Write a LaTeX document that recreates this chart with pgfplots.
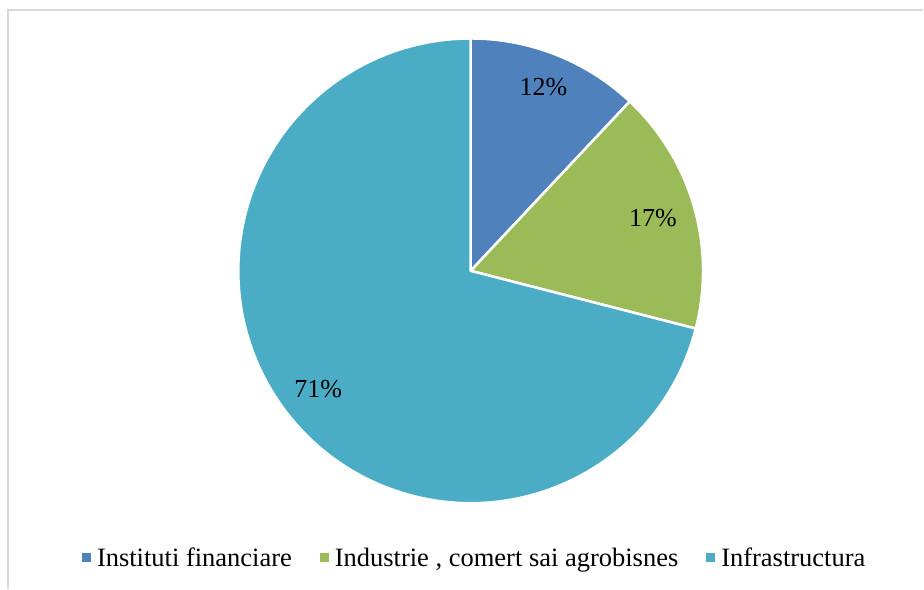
\documentclass[border=0pt]{standalone}
\usepackage{pgfplots}
\usepackage{pgfplotstable}
\pgfplotsset{compat=1.18}
\usepackage{fontspec}
\setmainfont{Liberation Serif}
\definecolor{cBlue}{HTML}{4F81BD}
\definecolor{cGreen}{HTML}{9BBB59}
\definecolor{cTeal}{HTML}{4BACC6}
\definecolor{cBorder}{HTML}{D9D9D9}
\pgfplotstableread{
share
12
17
71
}\pietable
\begin{document}
\begin{tikzpicture}
\pgfplotstablegetelem{0}{share}\of\pietable \let\sA\pgfplotsretval
\pgfplotstablegetelem{1}{share}\of\pietable \let\sB\pgfplotsretval
\pgfplotstablegetelem{2}{share}\of\pietable \let\sC\pgfplotsretval
\pgfmathsetmacro\aZ{90}
\pgfmathsetmacro\aA{90-3.6*\sA}
\pgfmathsetmacro\aB{\aA-3.6*\sB}
\pgfmathsetmacro\aC{\aB-3.6*\sC}
\pgfmathsetmacro\mA{(\aZ+\aA)/2}
\pgfmathsetmacro\mB{(\aA+\aB)/2}
\pgfmathsetmacro\mC{(\aB+\aC)/2}
\begin{axis}[
  scale only axis, width=924pt, height=589pt,
  xmin=0, xmax=924, ymin=0, ymax=589,
  hide axis, clip=false,
  legend columns=3,
  legend style={at={(axis cs:477,31)}, anchor=center, draw=none, fill=none,
    font=\fontsize{26.5}{30}\selectfont, inner xsep=0pt, inner ysep=0pt,
    nodes={inner xsep=6pt, inner ysep=2pt},
    /tikz/every even column/.append style={column sep=22pt}},
  legend image code/.code={\fill[#1, draw=none] (0pt,-4.5pt) rectangle (9pt,4.5pt);},
]
\path (axis cs:0,0) rectangle (axis cs:924,589);
\draw[cBorder, line width=1.2pt] (axis cs:8,0) -- (axis cs:8,579) -- (axis cs:924,579);
\filldraw[fill=cBlue, draw=white, line width=2.5pt, line join=round]
  (axis cs:471,318) -- ++(\aZ:232.5pt) arc[start angle=\aZ, end angle=\aA, radius=232.5pt] -- cycle;
\filldraw[fill=cGreen, draw=white, line width=2.5pt, line join=round]
  (axis cs:471,318) -- ++(\aA:232.5pt) arc[start angle=\aA, end angle=\aB, radius=232.5pt] -- cycle;
\filldraw[fill=cTeal, draw=white, line width=2.5pt, line join=round]
  (axis cs:471,318) -- ++(\aB:232.5pt) arc[start angle=\aB, end angle=\aC, radius=232.5pt] -- cycle;
\node[font=\fontsize{26}{30}\selectfont] at (axis cs:471,318) [shift={(\mA:198pt)}] {\sA\%};
\node[font=\fontsize{26}{30}\selectfont] at (axis cs:471,318) [shift={(\mB:190pt)}] {\sB\%};
\node[font=\fontsize{26}{30}\selectfont] at (axis cs:471,318) [shift={(\mC:193pt)}] {\sC\%};
\addlegendimage{fill=cBlue}
\addlegendentry{Instituti financiare}
\addlegendimage{fill=cGreen}
\addlegendentry{Industrie , comert sai agrobisnes}
\addlegendimage{fill=cTeal}
\addlegendentry{Infrastructura}
\end{axis}
\end{tikzpicture}
\end{document}
